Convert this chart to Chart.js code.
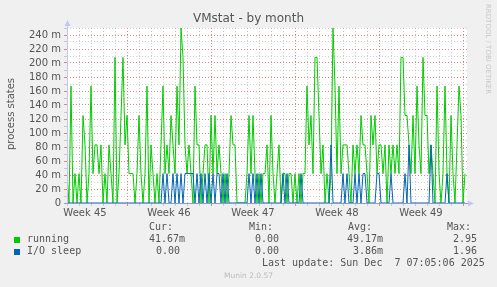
<!DOCTYPE html>
<html>
<head>
<meta charset="utf-8">
<title>VMstat - by month</title>
<script src="https://cdn.jsdelivr.net/npm/chart.js@4"></script>
<style>
body { margin: 0; background: #f0f0f0; }
#wrap { position: relative; width: 497px; height: 287px; font-family: 'DejaVu Sans', sans-serif; color: #555; }
canvas { position: absolute; left: 0; top: 0; }
.t { position: absolute; white-space: pre; }
.mono { font-family: 'DejaVu Sans Mono', monospace; font-size: 10px; line-height: 12px; }
.box { position: absolute; width: 6px; height: 6px; }
</style>
</head>
<body>
<div id="wrap">
  <canvas id="chart" width="497" height="287"></canvas>
  <div class="t" style="left:0;width:497px;top:11px;text-align:center;font-size:12px;line-height:14px;">VMstat - by month</div>
  <div class="t" style="left:-39px;top:108px;width:100px;text-align:center;font-size:10px;line-height:12px;transform:rotate(-90deg);">process states</div>
  <div class="t" style="left:484px;top:4px;writing-mode:vertical-rl;font-size:7px;color:#c8c8c8;">RRDTOOL / TOBI OETIKER</div>

  <div class="t mono" style="left:149px;top:221px;">Cur:</div>
  <div class="t mono" style="left:249px;top:221px;">Min:</div>
  <div class="t mono" style="left:348px;top:221px;">Avg:</div>
  <div class="t mono" style="left:447px;top:221px;">Max:</div>

  <div class="box" style="left:14px;top:237px;background:#00cc00;"></div>
  <div class="t mono" style="left:27px;top:233px;">running</div>
  <div class="t mono" style="left:149px;top:233px;">41.67m</div>
  <div class="t mono" style="left:255px;top:233px;">0.00</div>
  <div class="t mono" style="left:347px;top:233px;">49.17m</div>
  <div class="t mono" style="left:453px;top:233px;">2.95</div>

  <div class="box" style="left:14px;top:249px;background:#0066b3;"></div>
  <div class="t mono" style="left:27px;top:245px;">I/O sleep</div>
  <div class="t mono" style="left:156px;top:245px;">0.00</div>
  <div class="t mono" style="left:255px;top:245px;">0.00</div>
  <div class="t mono" style="left:353px;top:245px;">3.86m</div>
  <div class="t mono" style="left:453px;top:245px;">1.96</div>

  <div class="t mono" style="left:262px;top:257px;">Last update: Sun Dec  7 07:05:06 2025</div>
  <div class="t" style="left:0;width:497px;top:271px;text-align:center;font-size:7.5px;line-height:10px;color:#bbb;">Munin 2.0.57</div>
</div>
<script>
// one sample every 4 hours, first sample at the left edge of the graph
const sampleHours = 4;
const spanDays = 33.333;

const weekLabels = ['Week 45', 'Week 46', 'Week 47', 'Week 48', 'Week 49'];
const weekLabelDays = [1.5, 8.5, 15.5, 22.5, 29.5];
const weekStartDays = [5, 12, 19, 26, 33];
const yLabels = ['0', '20 m', '40 m', '60 m', '80 m', '100 m', '120 m', '140 m', '160 m', '180 m', '200 m', '220 m', '240 m'];

const running = [
  0.042, 0, 0.167, 0, 0.042, 0, 0.042, 0, 0.125, 0.083,
  0, 0.042, 0.167, 0.042, 0.083, 0.083, 0.042, 0.083, 0, 0.042,
  0, 0.083, 0.042, 0, 0.208, 0, 0.042, 0.125, 0.208, 0.083,
  0.125, 0.042, 0.042, 0.042, 0, 0.042, 0.125, 0.042, 0, 0.042,
  0.167, 0, 0.083, 0.042, 0, 0.042, 0, 0.083, 0.167, 0.042,
  0.083, 0.042, 0.125, 0.083, 0.042, 0.167, 0.083, 0.25, 0.208, 0.083,
  0.042, 0.083, 0.042, 0, 0.167, 0.083, 0.083, 0, 0.042, 0.083,
  0.083, 0, 0.125, 0.042, 0.125, 0.042, 0.083, 0.042, 0, 0.042,
  0, 0.042, 0.125, 0.083, 0.083, 0, 0, 0, 0, 0,
  0.042, 0.125, 0.042, 0.125, 0.042, 0, 0.042, 0, 0.042, 0.042,
  0.083, 0, 0.125, 0.042, 0, 0.042, 0.083, 0, 0.042, 0.042,
  0, 0.042, 0.042, 0, 0.042, 0, 0.042, 0, 0.042, 0.042,
  0.167, 0.083, 0.125, 0.042, 0.208, 0.208, 0.125, 0.042, 0.083, 0,
  0.042, 0, 0.042, 0.25, 0.167, 0.042, 0.167, 0.042, 0.083, 0.083,
  0.083, 0.042, 0, 0.083, 0.042, 0.083, 0.042, 0.125, 0.083, 0.083,
  0.042, 0, 0.125, 0.083, 0.125, 0.042, 0.083, 0.083, 0.042, 0.083,
  0, 0.083, 0.042, 0.083, 0.042, 0.083, 0.042, 0.208, 0.208, 0.125,
  0.125, 0.083, 0.042, 0.125, 0.042, 0.167, 0.083, 0.042, 0.208, 0.125,
  0.125, 0.042, 0.083, 0.042, 0, 0.167, 0.042, 0, 0.042, 0.167,
  0.042, 0, 0.125, 0.042, 0, 0.083, 0.167, 0.125, 0, 0.042
];

const ioSleep = [
  0, 0, 0, 0, 0, 0, 0, 0, 0, 0,
  0, 0, 0, 0, 0, 0, 0, 0, 0, 0,
  0, 0, 0, 0, 0, 0, 0, 0, 0, 0,
  0, 0, 0, 0, 0, 0, 0, 0, 0, 0,
  0, 0, 0, 0, 0, 0, 0, 0, 0.042, 0,
  0.042, 0, 0, 0.042, 0, 0.042, 0, 0.042, 0, 0.042,
  0.042, 0.042, 0.042, 0.042, 0, 0.042, 0, 0.042, 0, 0.042,
  0, 0.042, 0, 0.042, 0, 0.042, 0.042, 0, 0.042, 0,
  0.042, 0, 0, 0, 0, 0, 0, 0, 0, 0,
  0, 0.042, 0, 0.042, 0, 0.042, 0, 0.042, 0, 0,
  0, 0, 0, 0, 0, 0, 0, 0, 0.042, 0,
  0.042, 0, 0, 0, 0, 0, 0, 0.042, 0, 0,
  0, 0, 0, 0, 0, 0, 0, 0, 0, 0,
  0, 0, 0.083, 0, 0, 0, 0, 0, 0.042, 0,
  0.042, 0, 0, 0, 0.042, 0, 0.042, 0, 0.042, 0.042,
  0, 0, 0, 0, 0, 0.042, 0.042, 0, 0, 0,
  0, 0, 0.042, 0, 0, 0, 0, 0, 0, 0.042,
  0, 0.083, 0, 0, 0, 0, 0, 0, 0, 0,
  0, 0, 0.083, 0, 0, 0, 0, 0, 0, 0,
  0.042, 0, 0, 0, 0, 0, 0, 0, 0, 0
];

const toPoints = arr => arr.map((v, i) => ({ x: i * sampleHours / 24, y: v }));

const gridRed = 'rgba(225, 110, 110, 0.85)';
const gridGray = 'rgba(160, 160, 160, 0.5)';
const axisFont = { family: 'DejaVu Sans', size: 10 };

const muninFrame = {
  id: 'muninFrame',
  beforeDraw(c) {
    const { ctx, chartArea: a } = c;
    ctx.save();
    ctx.fillStyle = '#f0f0f0';
    ctx.fillRect(0, 0, c.width, c.height);
    ctx.fillStyle = '#ffffff';
    ctx.fillRect(a.left, a.top, a.right - a.left, a.bottom - a.top);
    ctx.restore();
  },
  afterDraw(c) {
    const { ctx, chartArea: a } = c;
    ctx.save();
    ctx.lineWidth = 1;
    // left axis + arrow
    ctx.strokeStyle = '#c4c8f0';
    ctx.beginPath();
    ctx.moveTo(a.left + 0.5, a.bottom);
    ctx.lineTo(a.left + 0.5, a.top - 4);
    ctx.stroke();
    ctx.fillStyle = '#c4c8f0';
    ctx.beginPath();
    ctx.moveTo(a.left + 0.5, a.top - 8);
    ctx.lineTo(a.left - 2.5, a.top - 2);
    ctx.lineTo(a.left + 3.5, a.top - 2);
    ctx.closePath();
    ctx.fill();
    // bottom axis + arrow
    ctx.strokeStyle = '#8c9ad8';
    ctx.beginPath();
    ctx.moveTo(a.left - 3, a.bottom + 0.5);
    ctx.lineTo(a.right + 2, a.bottom + 0.5);
    ctx.stroke();
    ctx.fillStyle = '#c4c8f0';
    ctx.beginPath();
    ctx.moveTo(a.right + 7, a.bottom + 0.5);
    ctx.lineTo(a.right + 1, a.bottom - 2.5);
    ctx.lineTo(a.right + 1, a.bottom + 3.5);
    ctx.closePath();
    ctx.fill();
    ctx.restore();
  }
};

new Chart(document.getElementById('chart'), {
  type: 'line',
  data: {
    datasets: [
      { label: 'I/O sleep', data: toPoints(ioSleep), borderColor: '#0066b3', borderWidth: 1, pointRadius: 0, tension: 0, order: 0 },
      { label: 'running', data: toPoints(running), borderColor: '#00cc00', borderWidth: 1, pointRadius: 0, tension: 0, order: 1 }
    ]
  },
  options: {
    responsive: false,
    animation: false,
    events: [],
    layout: { padding: { top: 28, right: 30, left: 0, bottom: 0 } },
    plugins: { legend: { display: false }, tooltip: { enabled: false } },
    scales: {
      x: {
        type: 'linear',
        min: 0,
        max: spanDays,
        afterBuildTicks: s => {
          const vals = [];
          for (let d = 0; d <= 33; d++) vals.push(d);
          s.ticks = vals.concat(weekLabelDays).sort((p, q) => p - q).map(v => ({ value: v }));
        },
        afterFit: s => { s.height = 84; },
        grid: {
          color: ctx => {
            const v = ctx.tick.value;
            if (!Number.isInteger(v)) return 'rgba(0,0,0,0)';
            return weekStartDays.includes(v) ? gridRed : gridGray;
          },
          tickLength: 3,
          lineWidth: 1
        },
        border: { display: false, dash: [1, 2] },
        ticks: {
          autoSkip: false,
          maxRotation: 0,
          padding: 1,
          color: '#555',
          font: axisFont,
          callback: v => {
            const i = weekLabelDays.indexOf(v);
            return i >= 0 ? weekLabels[i] : '';
          }
        }
      },
      y: {
        min: 0,
        max: 0.25,
        afterBuildTicks: s => {
          const vals = [];
          for (let i = 0; i <= 25; i++) vals.push({ value: i / 100 });
          s.ticks = vals;
        },
        afterFit: s => { s.width = 67; },
        grid: {
          color: ctx => (Math.round(ctx.tick.value * 1000) % 20 === 0 ? gridRed : gridGray),
          tickLength: 3,
          lineWidth: 1
        },
        border: { display: false, dash: [1, 2] },
        ticks: {
          autoSkip: false,
          padding: 3,
          color: '#555',
          font: axisFont,
          callback: v => {
            const mm = Math.round(v * 1000);
            return mm % 20 === 0 ? yLabels[mm / 20] : '';
          }
        }
      }
    }
  },
  plugins: [muninFrame]
});
</script>
</body>
</html>
